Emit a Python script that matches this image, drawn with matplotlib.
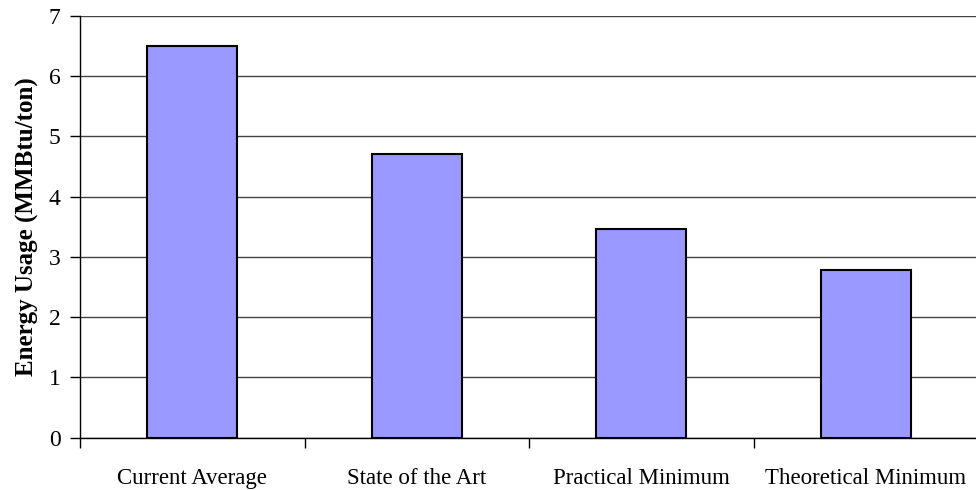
import numpy as np
import matplotlib.pyplot as plt

categories = ['Current Average', 'State of the Art', 'Practical Minimum', 'Theoretical Minimum']
energy_usage = [6.5, 4.7, 3.47, 2.78]

plt.rcParams['font.family'] = ['Liberation Serif', 'DejaVu Serif']

fig = plt.figure(figsize=(9.76, 4.9), dpi=100)
ax = fig.add_axes([80 / 976, (490 - 437.7) / 490, 898 / 976, (437.7 - 15.7) / 490])

x = np.arange(len(categories))
ax.bar(x, energy_usage, width=0.4, color='#9999FF', edgecolor='black', linewidth=1.5, zorder=3)

ax.set_xlim(-0.5, len(categories) - 0.5)
ax.set_ylim(0, 7)
ax.set_yticks(range(0, 8))
ax.yaxis.grid(True, color='#444444', linewidth=1.0, zorder=0)

# category boundaries get the tick marks, labels sit under the bars
ax.set_xticks(np.arange(len(categories) + 1) - 0.5)
ax.set_xticklabels([])
ax.set_xticks(x, minor=True)
ax.set_xticklabels(categories, minor=True, fontsize=16.5)
ax.tick_params(axis='x', which='major', direction='out', length=7, width=1)
ax.tick_params(axis='x', which='minor', length=0, pad=22)
ax.tick_params(axis='y', direction='out', length=7, width=1, labelsize=17, pad=7)

for side in ('top', 'right'):
    ax.spines[side].set_visible(False)
ax.spines['left'].set_linewidth(1)
ax.spines['bottom'].set_linewidth(1)

ax.set_ylabel('Energy Usage (MMBtu/ton)', fontsize=18, fontweight='bold', labelpad=7)

fig.savefig('out.png', dpi=100)
plt.close(fig)
